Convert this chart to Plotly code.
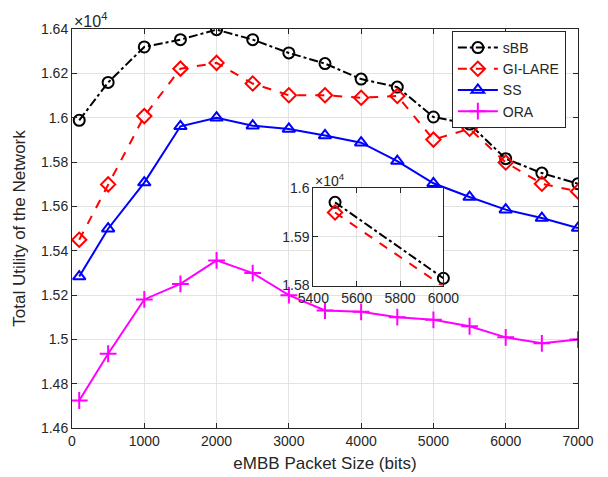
import plotly.graph_objects as go

# Packet sizes (bits)
packet_size = [100, 500, 1000, 1500, 2000, 2500, 3000, 3500, 4000, 4500,
               5000, 5500, 6000, 6500, 7000]

# Total utility of the network for each scheme
sbb = [15988, 16159, 16319, 16352, 16397, 16352, 16292, 16244, 16174, 16138,
       16003, 15971, 15815, 15750, 15702]
gi_lare = [15449, 15699, 16007, 16221, 16247, 16154, 16101, 16101, 16090, 16098,
           15901, 15950, 15798, 15702, 15667]
ss = [15283, 15499, 15707, 15961, 16000, 15964, 15949, 15920, 15887, 15804,
      15704, 15642, 15585, 15547, 15502]
ora = [14724, 14935, 15180, 15250, 15356, 15299, 15199, 15130, 15124, 15100,
       15088, 15059, 15009, 14982, 14999]

# Zoomed-in window
zoom_x = [5500, 6000]

main_yticks = [14600, 14800, 15000, 15200, 15400, 15600, 15800, 16000, 16200, 16400]
main_yticktext = ["1.46", "1.48", "1.5", "1.52", "1.54", "1.56", "1.58", "1.6", "1.62", "1.64"]
main_xticks = [0, 1000, 2000, 3000, 4000, 5000, 6000, 7000]
inset_xticks = [5400, 5600, 5800, 6000]
inset_yticks = [15800, 15900, 16000]
inset_yticktext = ["1.58", "1.59", "1.6"]

FONT = "Liberation Sans, Arial, Helvetica, sans-serif"
TXT = "#262626"
GRID = "#e3e3e3"

series = [
    ("sBB", sbb, "black", "dashdot", "circle-open"),
    ("GI-LARE", gi_lare, "#ff0000", "dash", "diamond-open"),
    ("SS", ss, "#0000ff", "solid", "triangle-up-open"),
    ("ORA", ora, "#ff00ff", "solid", "cross-thin-open"),
]

fig = go.Figure()
for name, vals, color, dash, symbol in series:
    fig.add_trace(go.Scatter(
        x=packet_size, y=vals, name=name, mode="lines+markers",
        line=dict(color=color, width=2, dash=dash),
        marker=dict(symbol=symbol, size=11 if symbol != "cross-thin-open" else 12,
                    color=color, line=dict(color=color, width=2)),
        xaxis="x", yaxis="y",
    ))

# Inset: sBB and GI-LARE between 5500 and 6000 bits
for name, vals, color, dash, symbol in series[:2]:
    zy = [v for x, v in zip(packet_size, vals) if x in zoom_x]
    fig.add_trace(go.Scatter(
        x=zoom_x, y=zy, name=name, mode="lines+markers", showlegend=False,
        line=dict(color=color, width=2, dash=dash),
        marker=dict(symbol=symbol, size=11, color=color,
                    line=dict(color=color, width=2)),
        xaxis="x2", yaxis="y2", cliponaxis=False,
    ))

axis_common = dict(
    showline=True, linecolor=TXT, linewidth=1, mirror="ticks",
    ticks="inside", ticklen=5, tickcolor=TXT, tickwidth=1,
    showgrid=True, gridcolor=GRID, gridwidth=1, zeroline=False,
    tickfont=dict(family=FONT, size=14, color=TXT), automargin=False,
)

fig.update_layout(
    width=608, height=477,
    margin=dict(l=72, r=30, t=29, b=49),
    paper_bgcolor="white", plot_bgcolor="white",
    font=dict(family=FONT, size=14, color=TXT),
    xaxis=dict(
        range=[0, 7000], tickvals=main_xticks, domain=[0, 1],
        title=dict(text="eMBB Packet Size (bits)", font=dict(size=17), standoff=9),
        **axis_common,
    ),
    yaxis=dict(
        range=[14600, 16400], tickvals=main_yticks, ticktext=main_yticktext,
        domain=[0, 1],
        title=dict(text="Total Utility of the Network", font=dict(size=17), standoff=11),
        **axis_common,
    ),
    xaxis2=dict(
        range=[5400, 6000], tickvals=inset_xticks, domain=[0.477, 0.734],
        anchor="y2", **axis_common,
    ),
    yaxis2=dict(
        range=[15800, 16000], tickvals=inset_yticks, ticktext=inset_yticktext,
        domain=[0.357, 0.601], anchor="x2", **axis_common,
    ),
    legend=dict(
        x=0.976, y=0.995, xanchor="right", yanchor="top",
        bgcolor="white", bordercolor=TXT, borderwidth=1,
        font=dict(family=FONT, size=14, color=TXT),
        tracegroupgap=0, itemwidth=40,
    ),
    showlegend=True,
)

fig.add_annotation(
    text="×10<sup>4</sup>", xref="paper", yref="paper", x=0, y=1,
    xanchor="left", yanchor="bottom", showarrow=False,
    font=dict(family=FONT, size=16, color=TXT), yshift=-3,
)
fig.add_annotation(
    text="×10<sup>4</sup>", xref="paper", yref="paper", x=0.477, y=0.601,
    xanchor="left", yanchor="bottom", showarrow=False,
    font=dict(family=FONT, size=14, color=TXT), yshift=-3,
)

fig.write_html("out.html")
